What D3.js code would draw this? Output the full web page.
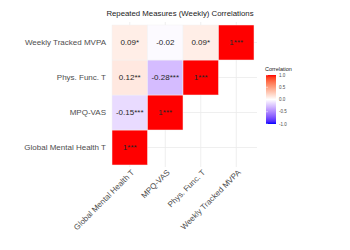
<!DOCTYPE html>
<html>
<head>
<meta charset="utf-8">
<script src="https://cdn.jsdelivr.net/npm/d3@7"></script>
<style>
  body { margin: 0; background: #fff; }
  text { font-family: "Liberation Sans", Arial, sans-serif; }
</style>
</head>
<body>
<div id="chart"></div>
<script>
// variables, in axis order (x left->right, y bottom->top)
var variables = ["Global Mental Health T", "MPQ-VAS", "Phys. Func. T", "Weekly Tracked MVPA"];
// lower triangle: row variable, column variable, r, stars
var rowVars = ["Global Mental Health T", "MPQ-VAS", "MPQ-VAS", "Phys. Func. T", "Phys. Func. T", "Phys. Func. T",
               "Weekly Tracked MVPA", "Weekly Tracked MVPA", "Weekly Tracked MVPA", "Weekly Tracked MVPA"];
var colVars = ["Global Mental Health T", "Global Mental Health T", "MPQ-VAS", "Global Mental Health T", "MPQ-VAS", "Phys. Func. T",
               "Global Mental Health T", "MPQ-VAS", "Phys. Func. T", "Weekly Tracked MVPA"];
var rValues = [1, -0.15, 1, 0.12, -0.28, 1, 0.09, -0.02, 0.09, 1];
var stars   = ["***", "***", "***", "**", "***", "***", "*", "", "*", "***"];
var legendTicks = [1.0, 0.5, 0.0, -0.5, -1.0];

var width = 350, height = 250;
var svg = d3.select("#chart").append("svg")
    .attr("width", width)
    .attr("height", height);

var x = d3.scaleBand().domain(variables).range([112, 254]).padding(0);
var y = d3.scaleBand().domain(variables.slice().reverse()).range([25, 165]).padding(0);

// plain hyphen for minus, like R prints it
var locale = d3.formatLocale({decimal: ".", thousands: ",", grouping: [3], currency: ["", ""], minus: "-"});
var fmt2 = locale.format(".2f");
var fmt1 = locale.format(".1f");

//colour: blue - white - red
var color = function(v){
    if (v >= 0) return d3.interpolateLab("#ffffff", "#ff0000")(v);
    return d3.interpolateLab("#ffffff", "#0000ff")(-v);
};

// grid lines
var grid = svg.append("g");
variables.forEach(function(v){
    grid.append("line")
        .attr("x1", 112).attr("x2", 257)
        .attr("y1", y(v) + y.bandwidth()/2).attr("y2", y(v) + y.bandwidth()/2)
        .attr("stroke", "#ebebeb").attr("stroke-width", 0.8);
    grid.append("line")
        .attr("x1", x(v) + x.bandwidth()/2).attr("x2", x(v) + x.bandwidth()/2)
        .attr("y1", 22).attr("y2", 167)
        .attr("stroke", "#ebebeb").attr("stroke-width", 0.8);
});

var cells = rValues.map(function(r, i){
    return {row: rowVars[i], col: colVars[i], r: r, stars: stars[i]};
});

svg.selectAll("rect.tile").data(cells).enter()
    .append("rect")
    .attr("class", "tile")
    .attr("x", function(d){ return x(d.col); })
    .attr("y", function(d){ return y(d.row); })
    .attr("width", x.bandwidth())
    .attr("height", y.bandwidth())
    .attr("fill", function(d){ return color(d.r); })
    .attr("stroke", "#f2f2f2")
    .attr("stroke-width", 0.5);

svg.selectAll("text.val").data(cells).enter()
    .append("text")
    .attr("class", "val")
    .attr("x", function(d){ return x(d.col) + x.bandwidth()/2; })
    .attr("y", function(d){ return y(d.row) + y.bandwidth()/2; })
    .attr("dy", "0.35em")
    .attr("text-anchor", "middle")
    .attr("font-size", 8)
    .attr("fill", "#262626")
    .text(function(d){ return (d.r === 1 ? "1" : fmt2(d.r)) + d.stars; });

// y axis labels
svg.selectAll("text.ylab").data(variables).enter()
    .append("text")
    .attr("class", "ylab")
    .attr("x", 106)
    .attr("y", function(d){ return y(d) + y.bandwidth()/2; })
    .attr("dy", "0.35em")
    .attr("text-anchor", "end")
    .attr("font-size", 8)
    .attr("fill", "#4d4d4d")
    .text(function(d){ return d; });

// x axis labels, rotated
svg.selectAll("text.xlab").data(variables).enter()
    .append("text")
    .attr("class", "xlab")
    .attr("transform", function(d){
        return "translate(" + (x(d) + x.bandwidth()/2 + 3) + ",171) rotate(-45)";
    })
    .attr("text-anchor", "end")
    .attr("dy", "0.35em")
    .attr("font-size", 8)
    .attr("fill", "#4d4d4d")
    .text(function(d){ return d; });

// title
svg.append("text")
    .attr("x", 180)
    .attr("y", 16)
    .attr("text-anchor", "middle")
    .attr("font-size", 7.8)
    .attr("fill", "#1a1a1a")
    .text("Repeated Measures (Weekly) Correlations");

// legend
var legY = d3.scaleLinear().domain([1, -1]).range([75, 124]);
var defs = svg.append("defs");
var grad = defs.append("linearGradient").attr("id", "lg")
    .attr("x1", 0).attr("y1", 0).attr("x2", 0).attr("y2", 1);
d3.range(0, 21).forEach(function(i){
    var v = 1 - i/10;
    grad.append("stop").attr("offset", (i/20*100) + "%").attr("stop-color", color(v));
});
svg.append("rect")
    .attr("x", 266).attr("y", legY(1))
    .attr("width", 10).attr("height", legY(-1) - legY(1))
    .attr("fill", "url(#lg)");
svg.append("text")
    .attr("x", 265).attr("y", 71)
    .attr("font-size", 5.5)
    .attr("fill", "#1a1a1a")
    .text("Correlation");
svg.selectAll("text.leg").data(legendTicks).enter()
    .append("text")
    .attr("class", "leg")
    .attr("x", 279)
    .attr("y", function(d){ return legY(d); })
    .attr("dy", "0.35em")
    .attr("font-size", 4.5)
    .attr("fill", "#4d4d4d")
    .text(function(d){ return fmt1(d); });
svg.selectAll("line.legtick").data(legendTicks).enter()
    .append("line")
    .attr("x1", 266).attr("x2", 268)
    .attr("y1", function(d){ return legY(d); })
    .attr("y2", function(d){ return legY(d); })
    .attr("stroke", "#fff").attr("stroke-width", 0.5);
</script>
</body>
</html>
